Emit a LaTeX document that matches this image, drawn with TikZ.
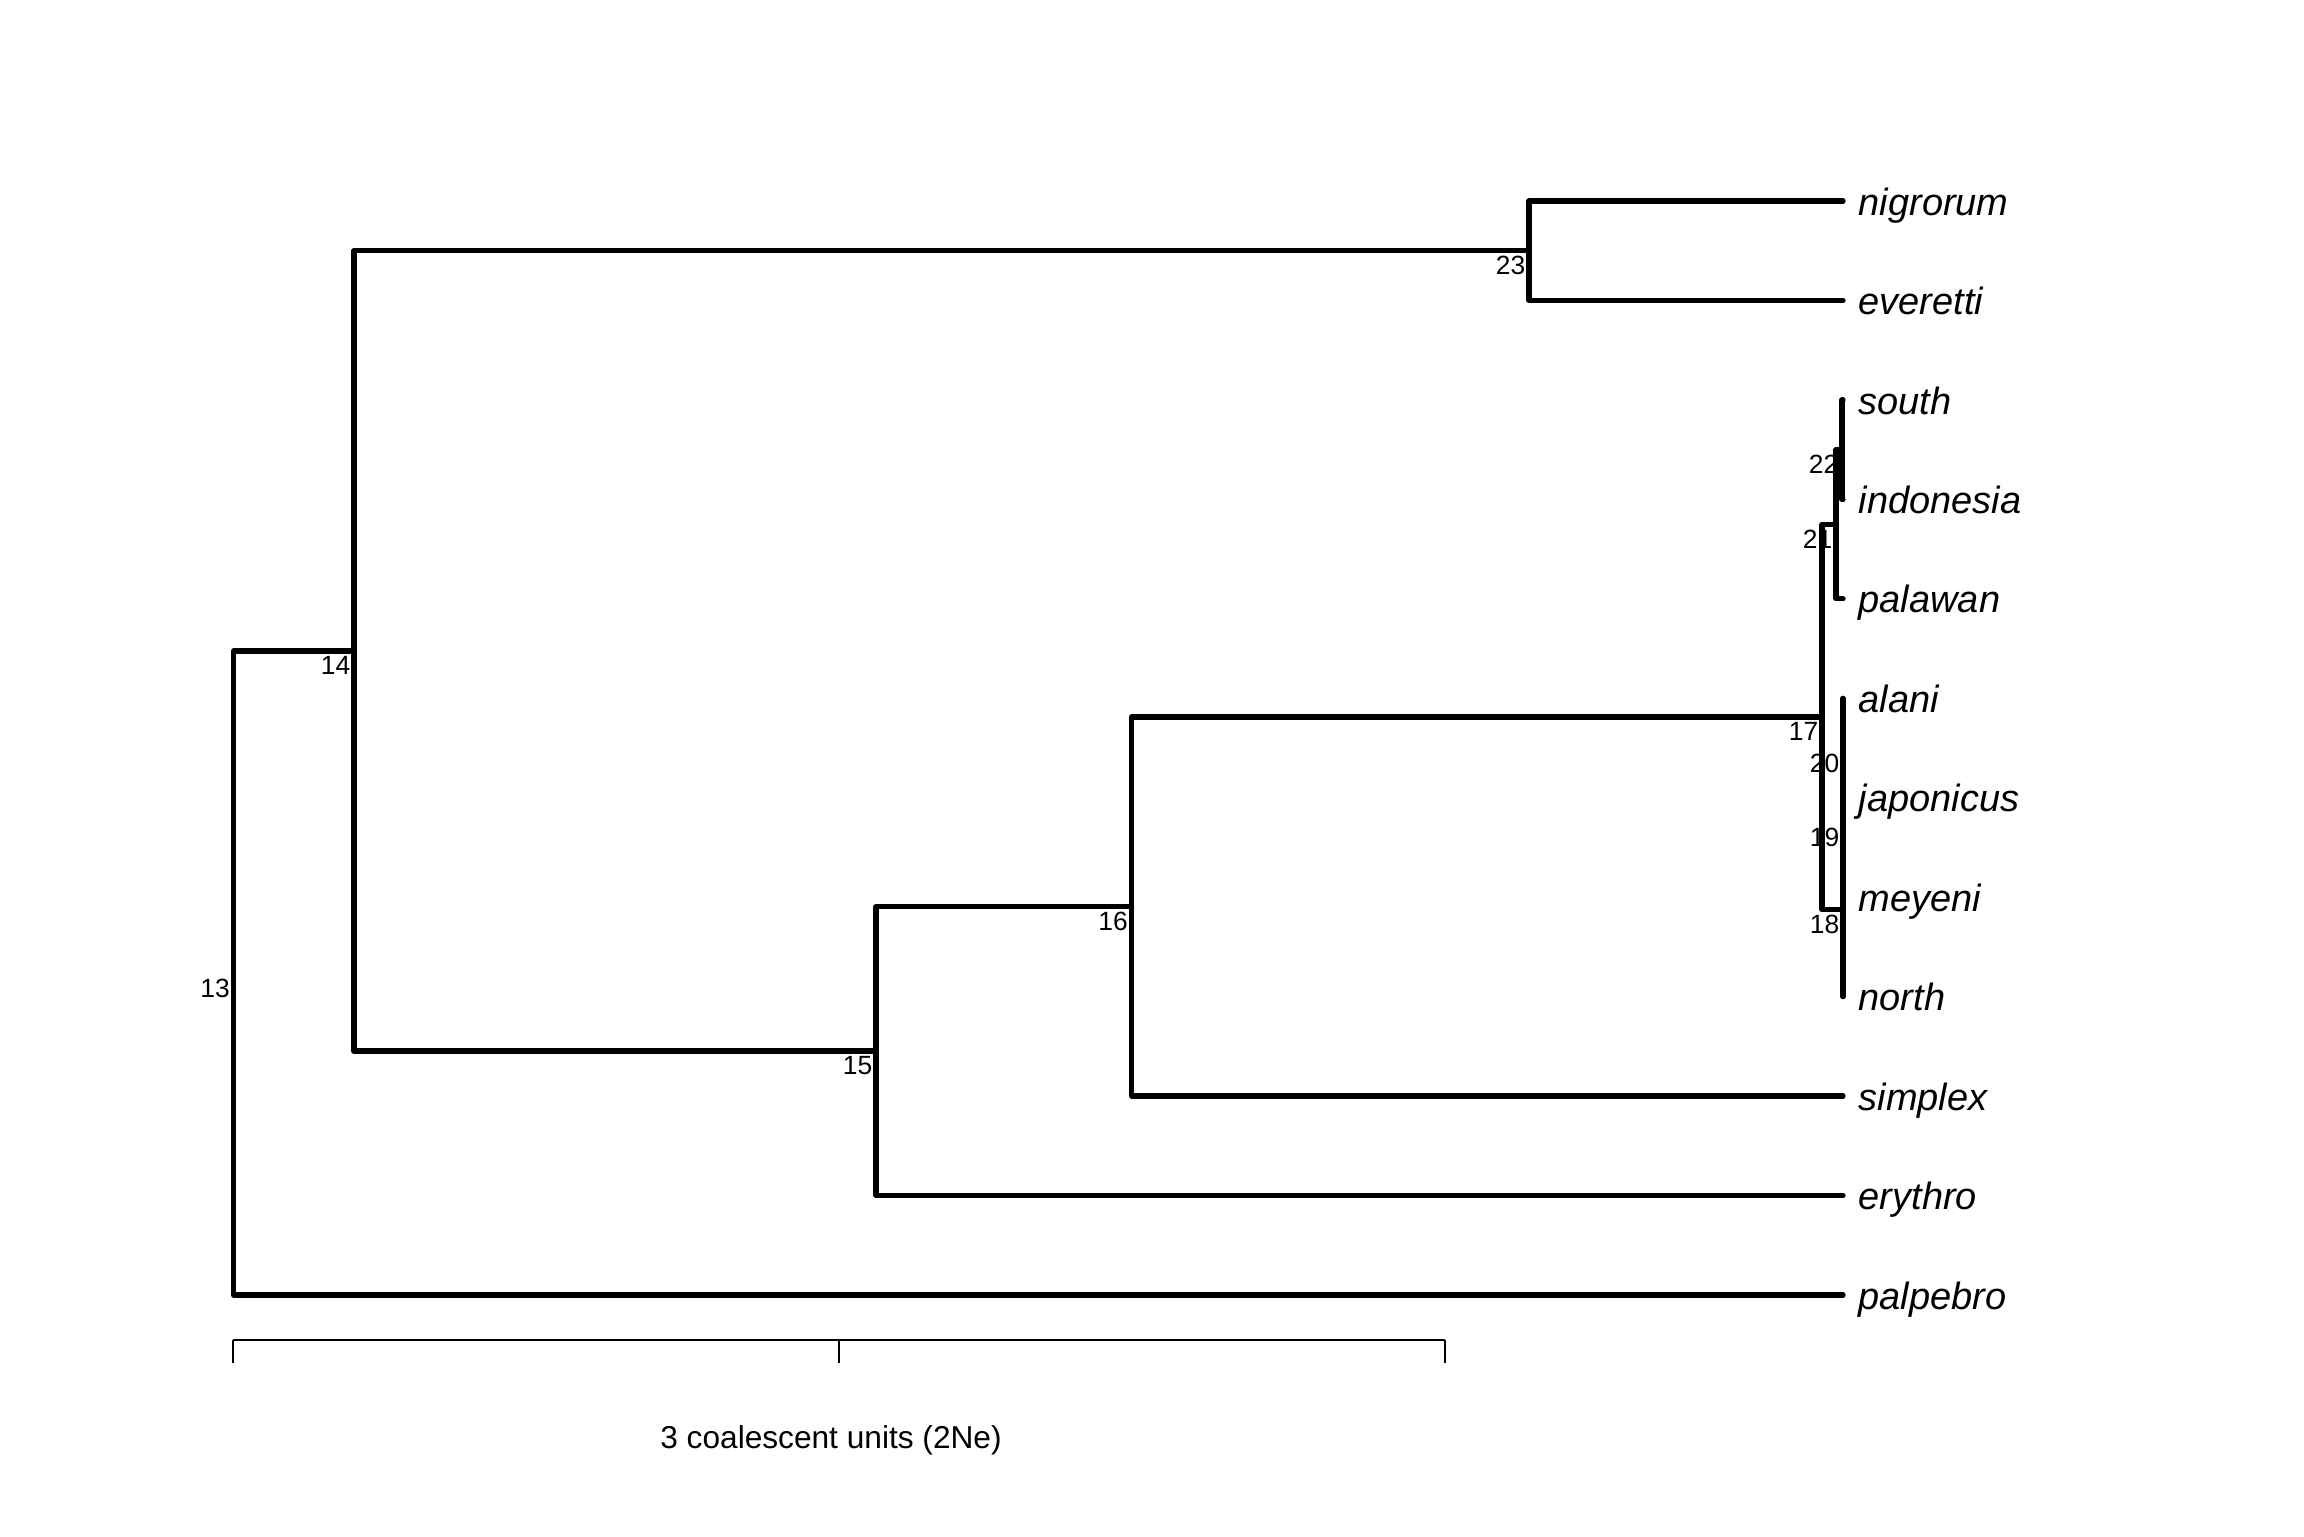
\documentclass[tikz,border=0pt]{standalone}
\usepackage{fontspec}
\setmainfont{Liberation Sans}
\begin{document}
\begin{tikzpicture}[x=0.01cm,y=-0.01cm,
  branch/.style={line width=1.5pt,line cap=round,line join=round},
  tiplab/.style={anchor=base west,inner sep=0pt,xshift=0.15cm,yshift=-0.14cm,
    font=\fontsize{10.8}{13}\selectfont\itshape},
  nlab/.style={anchor=north east,inner sep=0pt,xshift=-0.03cm,yshift=-0.05cm,
    font=\fontsize{7.5}{9}\selectfont},
  barline/.style={line width=0.55pt},
  tickline/.style={line width=0.4pt}]
\useasboundingbox (0,0) rectangle (2304,1536);
% tips
\coordinate (nigrorum) at (1843,201);
\coordinate (everetti) at (1843,300.5);
\coordinate (south) at (1843,400);
\coordinate (indonesia) at (1843,499.4);
\coordinate (palawan) at (1843,598.8);
\coordinate (alani) at (1843,698.3);
\coordinate (japonicus) at (1843,797.7);
\coordinate (meyeni) at (1843,897.2);
\coordinate (north) at (1843,996.6);
\coordinate (simplex) at (1843,1096);
\coordinate (erythro) at (1843,1195.5);
\coordinate (palpebro) at (1843,1295);
% internal nodes
\coordinate (n23) at (1529,250.7);
\coordinate (n22) at (1842,449.7);
\coordinate (n21) at (1836,524.3);
\coordinate (n20) at (1843,748);
\coordinate (n19) at (1843,822.6);
\coordinate (n18) at (1843,909.6);
\coordinate (n17) at (1822,717);
\coordinate (n16) at (1131.5,906.5);
\coordinate (n15) at (876,1051);
\coordinate (n14) at (354,650.9);
\coordinate (n13) at (233.5,973);
% branches
\draw[branch] (n13) |- (n14);
\draw[branch] (n13) |- (palpebro);
\draw[branch] (n14) |- (n23);
\draw[branch] (n14) |- (n15);
\draw[branch] (n23) |- (nigrorum);
\draw[branch] (n23) |- (everetti);
\draw[branch] (n15) |- (n16);
\draw[branch] (n15) |- (erythro);
\draw[branch] (n16) |- (n17);
\draw[branch] (n16) |- (simplex);
\draw[branch] (n17) |- (n21);
\draw[branch] (n17) |- (n18);
\draw[branch] (n21) |- (n22);
\draw[branch] (n21) |- (palawan);
\draw[branch] (n22) |- (south);
\draw[branch] (n22) |- (indonesia);
\draw[branch] (n18) |- (n19);
\draw[branch] (n18) |- (north);
\draw[branch] (n19) |- (n20);
\draw[branch] (n19) |- (meyeni);
\draw[branch] (n20) |- (alani);
\draw[branch] (n20) |- (japonicus);
% tip labels
\node[tiplab] (lnigrorum) at (nigrorum) {nigrorum};
\node[tiplab] (leveretti) at (everetti) {everetti};
\node[tiplab] (lsouth) at (south) {south};
\node[tiplab] (lindonesia) at (indonesia) {indonesia};
\node[tiplab] (lpalawan) at (palawan) {palawan};
\node[tiplab] (lalani) at (alani) {alani};
\node[tiplab] (ljaponicus) at (japonicus) {japonicus};
\node[tiplab] (lmeyeni) at (meyeni) {meyeni};
\node[tiplab] (lnorth) at (north) {north};
\node[tiplab] (lsimplex) at (simplex) {simplex};
\node[tiplab] (lerythro) at (erythro) {erythro};
\node[tiplab] (lpalpebro) at (palpebro) {palpebro};
% node labels
\node[nlab] (l13) at (n13) {13};
\node[nlab] (l14) at (n14) {14};
\node[nlab] (l15) at (n15) {15};
\node[nlab] (l16) at (n16) {16};
\node[nlab] (l17) at (n17) {17};
\node[nlab] (l18) at (n18) {18};
\node[nlab] (l19) at (n19) {19};
\node[nlab] (l20) at (n20) {20};
\node[nlab] (l21) at (n21) {21};
\node[nlab] (l22) at (n22) {22};
\node[nlab] (l23) at (n23) {23};
% scale bar
\coordinate (b0) at (233,1340);
\coordinate (b1) at (839,1340);
\coordinate (b2) at (1445,1340);
\coordinate (b0d) at (233,1363);
\coordinate (b1d) at (839,1363);
\coordinate (b2d) at (1445,1363);
\draw[barline] (b0) -- (b2);
\draw[tickline] (b0) -- (b0d);
\draw[tickline] (b1) -- (b1d);
\draw[tickline] (b2) -- (b2d);
\node[anchor=base,inner sep=0pt,font=\fontsize{9}{11}\selectfont] (scaletext) at (831,1448) {3 coalescent units (2Ne)};
\end{tikzpicture}
\end{document}
